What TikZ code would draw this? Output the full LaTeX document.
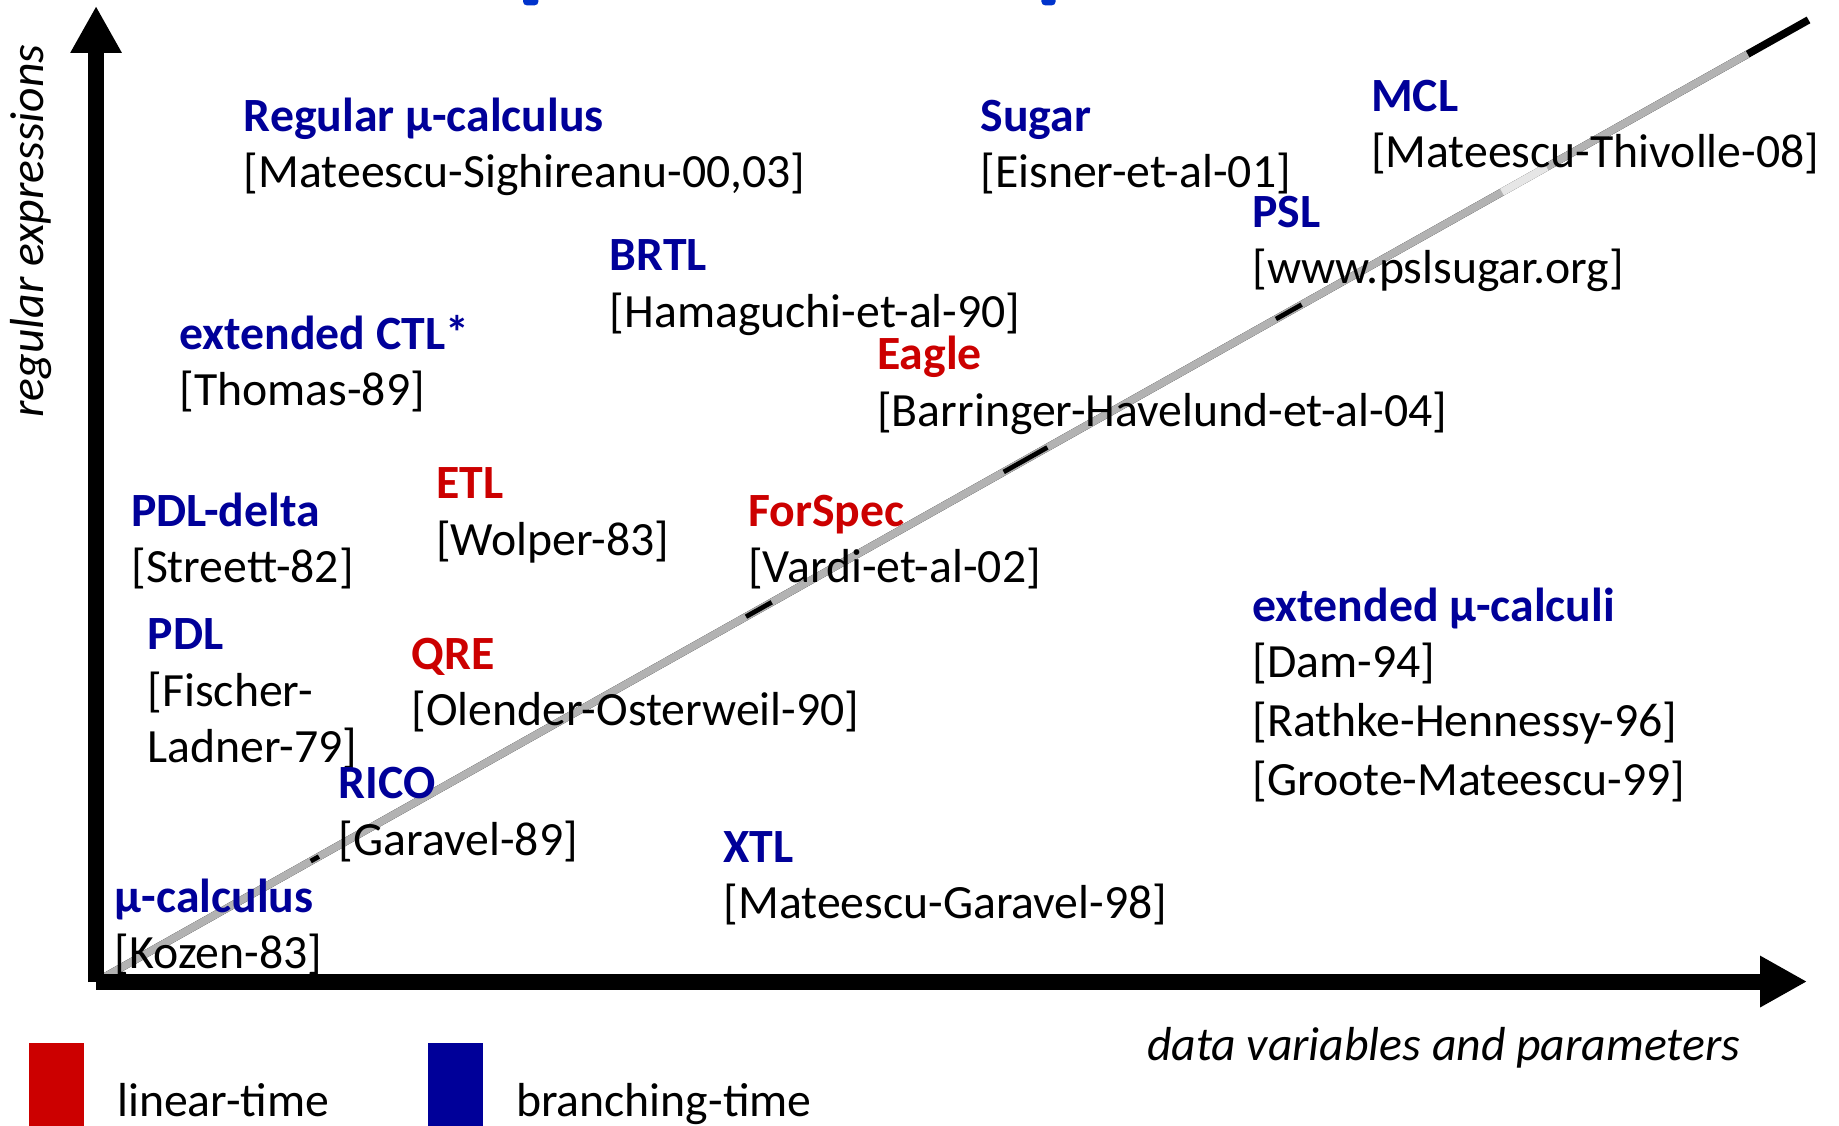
\documentclass[tikz,border=0pt]{standalone}
\usepackage{fontspec}
\setmainfont{Carlito}
\usetikzlibrary{arrows.meta,calc}
\definecolor{brblue}{RGB}{0,0,153}
\definecolor{lnred}{RGB}{204,0,0}
\definecolor{diaggrey}{RGB}{178,178,178}
\definecolor{diaglight}{RGB}{230,230,230}
\definecolor{topblue}{RGB}{0,51,204}
\newcommand{\labelsize}{\fontsize{40.7}{48.8}\selectfont}
\begin{document}
\begin{tikzpicture}[x=1pt,y=-1pt,
  every node/.style={inner sep=0pt, outer sep=0pt, anchor=base west, font=\labelsize},
  branching/.style={text=brblue, font=\labelsize\bfseries},
  lineartime/.style={text=lnred, font=\labelsize\bfseries},
  cite/.style={text=black},
  axislabel/.style={font=\labelsize\itshape},
  axisline/.style={line width=13.6pt, -{Triangle[length=40pt,width=41pt]}},
  diagline/.style={line width=6.5pt},
]
\useasboundingbox (0,0) rectangle (1568,960);

% cut-off glyph ends at the upper border
\fill[topblue, rounded corners=3pt] (446,-6) rectangle (459,4.5);
\fill[topblue, rounded corners=3pt] (888,-6) rectangle (900,4.5);

% diagonal separating line
\coordinate (dstart) at (82,837);
\coordinate (dend) at (1542,17);
\draw[diagline, black] (dstart) -- (dend);
\draw[diagline, diaggrey] (dstart) -- ($(dstart)!0.9644!(dend)$);
\draw[diagline, diaglight] ($(dstart)!0.821!(dend)$) -- ($(dstart)!0.847!(dend)$);
\begin{scope}[shift={(0.8,1.5)}, line width=4pt]
  \draw ($(dstart)!0.689!(dend)$) -- ($(dstart)!0.704!(dend)$);
  \draw ($(dstart)!0.530!(dend)$) -- ($(dstart)!0.5555!(dend)$);
  \draw ($(dstart)!0.3795!(dend)$) -- ($(dstart)!0.3945!(dend)$);
  \draw ($(dstart)!0.1253!(dend)$) -- ($(dstart)!0.1301!(dend)$);
\end{scope}

% axes
\coordinate (ybot) at (81.9,837.3);
\coordinate (ytip) at (81.9,5.1);
\coordinate (xleft) at (81.9,836.9);
\coordinate (xtip) at (1540.8,836.9);
\draw[axisline] (ybot) -- (ytip);
\draw[axisline] (xleft) -- (xtip);

\node[axislabel, rotate=90] (ylab) at (37,356) {regular expressions};
\node[axislabel] (xlab) at (978,904) {data variables and parameters};

% logics and references
\node[branching] (regmu) at (208,112) {Regular μ-calculus};
\node[cite] (regmuref) at (208,160) {[Mateescu-Sighireanu-00,03]};

\node[branching] (sugar) at (836,112) {Sugar};
\node[cite] (sugarref) at (836,160) {[Eisner-et-al-01]};

\node[branching] (mcl) at (1169,95) {MCL};
\node[cite] (mclref) at (1169,143) {[Mateescu-Thivolle-08]};

\node[branching] (psl) at (1068,194) {PSL};
\node[cite] (pslref) at (1068,242) {[www.pslsugar.org]};

\node[branching] (brtl) at (520,231) {BRTL};
\node[cite] (brtlref) at (520,279) {[Hamaguchi-et-al-90]};

\node[branching] (ectl) at (153,298) {extended CTL*};
\node[cite] (ectlref) at (153,346) {[Thomas-89]};

\node[lineartime] (eagle) at (748,315) {Eagle};
\node[cite] (eagleref) at (748,364) {[Barringer-Havelund-et-al-04]};

\node[lineartime] (etl) at (372,425) {ETL};
\node[cite] (etlref) at (372,474) {[Wolper-83]};

\node[branching] (pdld) at (112,449) {PDL-delta};
\node[cite] (pdldref) at (112,497) {[Streett-82]};

\node[lineartime] (forspec) at (638,449) {ForSpec};
\node[cite] (forspecref) at (638,497) {[Vardi-et-al-02]};

\node[branching] (extmu) at (1068,530) {extended μ-calculi};
\node[cite] (extmuref1) at (1068,578) {[Dam-94]};
\node[cite] (extmuref2) at (1068,628) {[Rathke-Hennessy-96]};
\node[cite] (extmuref3) at (1068,678) {[Groote-Mateescu-99]};

\node[branching] (pdl) at (126,554) {PDL};
\node[cite] (pdlref1) at (126,602) {[Fischer-};
\node[cite] (pdlref2) at (126,650) {Ladner-79]};

\node[lineartime] (qre) at (351,571) {QRE};
\node[cite] (qreref) at (351,619) {[Olender-Osterweil-90]};

\node[branching] (rico) at (289,681) {RICO};
\node[cite] (ricoref) at (289,729) {[Garavel-89]};

\node[branching] (xtl) at (617,735) {XTL};
\node[cite] (xtlref) at (617,783) {[Mateescu-Garavel-98]};

\node[branching] (mucalc) at (98,778) {μ-calculus};
\node[cite] (mucalcref) at (98,826) {[Kozen-83]};

% legend
\fill[lnred] (25,889) rectangle (72,965);
\node (lnlegend) at (100,952) {linear-time};
\fill[brblue] (365,889) rectangle (412,965);
\node (brlegend) at (440,952) {branching-time};
\end{tikzpicture}
\end{document}
